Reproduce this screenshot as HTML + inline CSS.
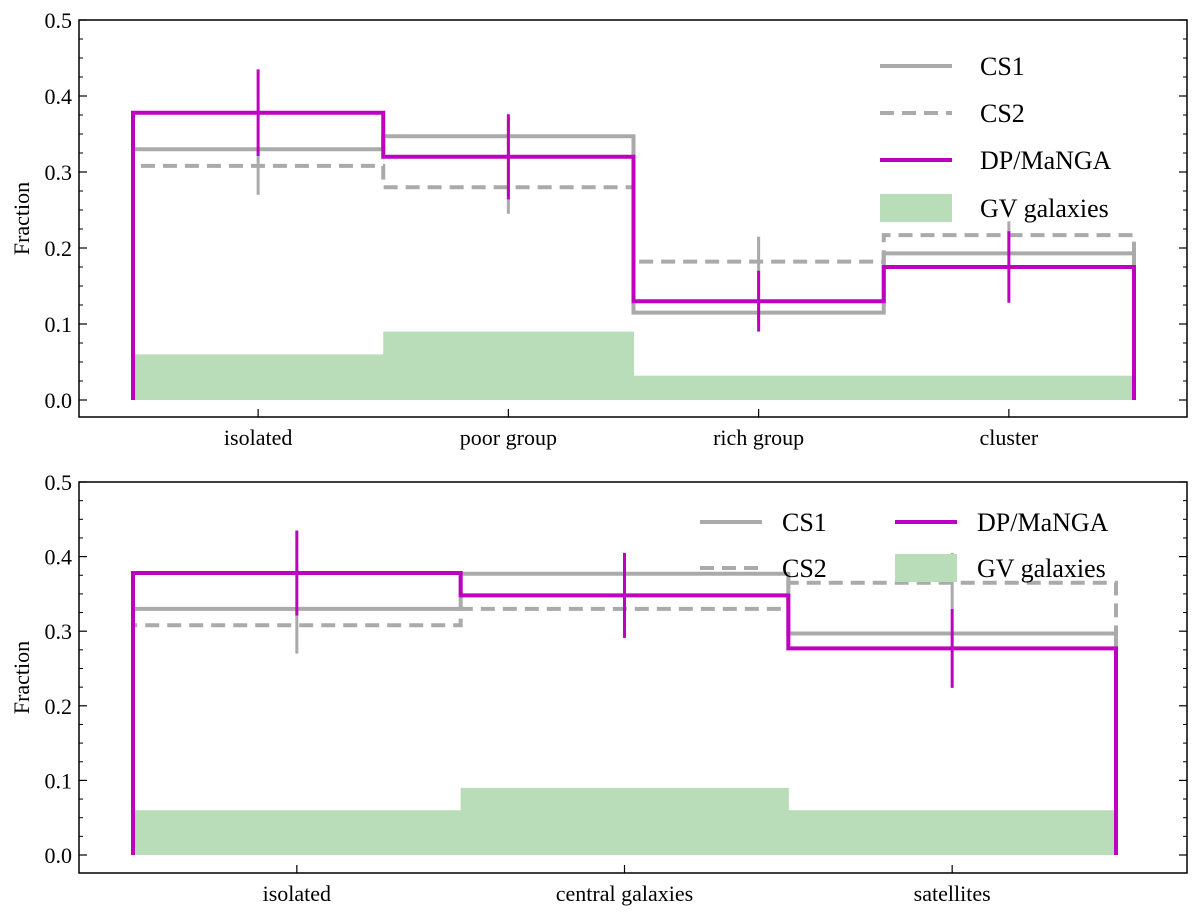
<!DOCTYPE html>
<html><head><meta charset="utf-8"><style>
body{margin:0;background:#fff}
svg{display:block;font-family:"Liberation Serif",serif}
</style></head><body>
<svg id="c" width="1200" height="914"></svg>
<script>
// Top panel data
const topCats = ["isolated","poor group","rich group","cluster"];
const topCS1 = [0.330,0.347,0.115,0.193];
const topCS1Lo = [0.270,0.245,0.100,0.190];
const topCS1Hi = [0.330,0.370,0.215,0.235];
const topCS2 = [0.308,0.280,0.182,0.217];
const topDP = [0.378,0.320,0.130,0.175];
const topDPErr = [0.057,0.056,0.040,0.047];
const topGV = [0.060,0.090,0.032,0.032];
// Bottom panel data
const botCats = ["isolated","central galaxies","satellites"];
const botCS1 = [0.330,0.377,0.297];
const botCS1Lo = [0.270,0.320,0.330];
const botCS1Hi = [0.330,0.400,0.405];
const botCS2 = [0.308,0.330,0.365];
const botDP = [0.378,0.348,0.277];
const botDPErr = [0.057,0.057,0.053];
const botGV = [0.060,0.090,0.060];
const yTicks = [0.0,0.1,0.2,0.3,0.4,0.5];

const svg=document.getElementById('c');
const NS="http://www.w3.org/2000/svg";
function mk(t,a,parent){const e=document.createElementNS(NS,t);for(const k in a)e.setAttribute(k,a[k]);(parent||svg).appendChild(e);return e;}

function panel(p){
  const g=mk('g',{});
  
  
  const y=v=>p.y0+(p.y5-p.y0)*v/0.5;
  const n=p.cats.length;
  const edge=i=>p.xl+(p.xr-p.xl)*i/n;
  const cx=i=>(edge(i)+edge(i+1))/2;
  p.gv.forEach((v,i)=>{
    const r=mk('rect',{x:edge(i),y:y(v),width:edge(i+1)-edge(i)+0.5,height:y(0)-y(v),fill:'#b9dcb9'},g);
    
    
  });
  function step(vals,attrs,name){
    let d=`M${edge(0)},${y(0)}`;
    vals.forEach((v,i)=>{d+=`L${edge(i)},${y(v)}L${edge(i+1)},${y(v)}`;});
    d+=`L${edge(n)},${y(0)}`;
    const pth=mk('path',Object.assign({d:d,fill:'none'},attrs),g);
    
    
  }
  step(p.cs2,{stroke:'#aaaaaa','stroke-width':4,'stroke-dasharray':'14,8'},'cs2-step');
  step(p.cs1,{stroke:'#aaaaaa','stroke-width':4},'cs1-step');
  p.cs1.forEach((v,i)=>{
    const l=mk('line',{x1:cx(i),x2:cx(i),y1:y(p.cs1lo[i]),y2:y(p.cs1hi[i]),stroke:'#aaaaaa','stroke-width':3},g);
    
    
  });
  step(p.dp,{stroke:'#c000c0','stroke-width':4},'dp-step');
  p.dp.forEach((v,i)=>{
    const l=mk('line',{x1:cx(i),x2:cx(i),y1:y(v-p.dpe[i]),y2:y(v+p.dpe[i]),stroke:'#c000c0','stroke-width':3},g);
    
    
  });
  const fr=mk('rect',{x:79,y:p.top,width:1108,height:p.bot-p.top,fill:'none',stroke:'#000','stroke-width':1.5},g);
  
  
  yTicks.forEach(t=>{
    mk('line',{x1:79,x2:87,y1:y(t),y2:y(t),stroke:'#000','stroke-width':1.2},g);
    mk('line',{x1:1187,x2:1179,y1:y(t),y2:y(t),stroke:'#000','stroke-width':1.2},g);
    for(let k=1;k<4&&t<0.5;k++){const m=t+k*0.025;
      mk('line',{x1:79,x2:83,y1:y(m),y2:y(m),stroke:'#000'},g);
      mk('line',{x1:1187,x2:1183,y1:y(m),y2:y(m),stroke:'#000'},g);}
    const tx=mk('text',{x:72,y:y(t)+8,'text-anchor':'end','font-size':22},g);
    tx.textContent=t.toFixed(1);
    
    
  });
  p.cats.forEach((c,i)=>{
    mk('line',{x1:cx(i),x2:cx(i),y1:p.bot,y2:p.bot-8,stroke:'#000','stroke-width':1.2},g);
    const tx=mk('text',{x:cx(i),y:p.bot+28,'text-anchor':'middle','font-size':22},g);
    tx.textContent=c;
    
    
  });
  const yl=mk('text',{x:0,y:0,'text-anchor':'middle','font-size':22,transform:`translate(29,${(p.top+p.bot)/2}) rotate(-90)`},g);
  yl.textContent='Fraction';
  
  
  const lg=mk('g',{},g);
  
  
  p.leg.forEach(e=>{
    if(e.k==='gv') mk('rect',{x:e.x,y:e.y-14,width:e.w,height:28,fill:'#b9dcb9'},lg);
    else mk('line',{x1:e.x,x2:e.x+e.w,y1:e.y,y2:e.y,stroke:e.k==='dp'?'#c000c0':'#aaaaaa','stroke-width':4,'stroke-dasharray':e.k==='cs2'?'14,8':'none'},lg);
    const tx=mk('text',{x:e.x+e.w+e.gap,y:e.y+9,'font-size':26},lg);
    tx.textContent=e.t;
    
    
  });
}
panel({name:'top-panel',cats:topCats,cs1:topCS1,cs1lo:topCS1Lo,cs1hi:topCS1Hi,cs2:topCS2,dp:topDP,dpe:topDPErr,gv:topGV,
  top:20,bot:417,y0:400,y5:20,xl:133,xr:1134,
  leg:[{k:'cs1',t:'CS1',x:880,y:66,w:72,gap:28},{k:'cs2',t:'CS2',x:880,y:113,w:72,gap:28},{k:'dp',t:'DP/MaNGA',x:880,y:160,w:72,gap:28},{k:'gv',t:'GV galaxies',x:880,y:208,w:72,gap:28}]});
panel({name:'bottom-panel',cats:botCats,cs1:botCS1,cs1lo:botCS1Lo,cs1hi:botCS1Hi,cs2:botCS2,dp:botDP,dpe:botDPErr,gv:botGV,
  top:482,bot:873,y0:855,y5:482,xl:133,xr:1116,
  leg:[{k:'cs1',t:'CS1',x:700,y:522,w:62,gap:20},{k:'cs2',t:'CS2',x:700,y:568,w:62,gap:20},{k:'dp',t:'DP/MaNGA',x:895,y:522,w:62,gap:20},{k:'gv',t:'GV galaxies',x:895,y:568,w:62,gap:20}]});
</script>
</body></html>
